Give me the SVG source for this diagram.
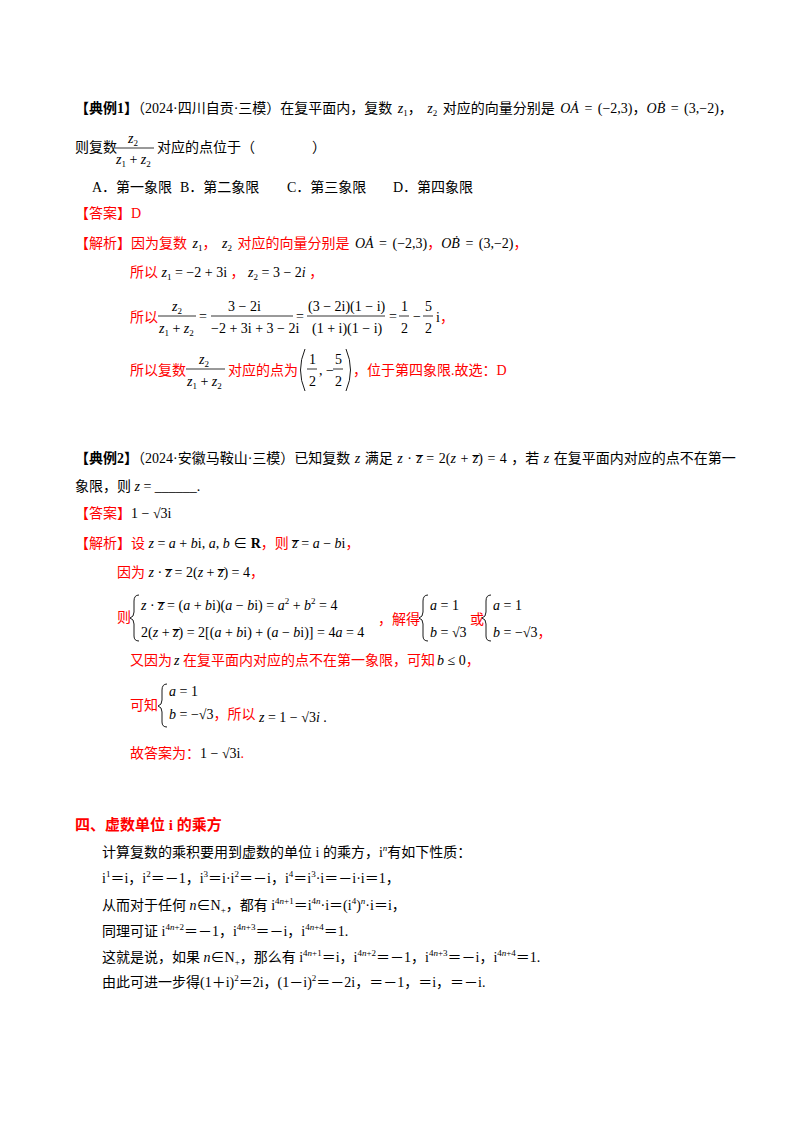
<svg xmlns="http://www.w3.org/2000/svg" width="800" height="1132" viewBox="0 0 800 1132">
<style>
text{font-family:"Liberation Serif","Noto Sans CJK SC",serif;font-size:14px;fill:#000}
.r{fill:#ff0000}
.b{font-weight:bold}
.i{font-style:italic}
.s{font-size:9px}
.h{font-size:15px}
line{stroke:#000;stroke-width:0.8}
path{fill:none;stroke:#000;stroke-width:0.9}
</style>
<rect width="800" height="1132" fill="#fff"/>
<g id="ex1">
<text x="75" y="113" word-spacing="2"><tspan class="b">【典例1】</tspan>（2024·四川自贡·三模）在复平面内，复数 <tspan class="i">z</tspan><tspan class="s" dy="3">1</tspan><tspan dy="-3">， </tspan><tspan class="i">z</tspan><tspan class="s" dy="3">2</tspan><tspan dy="-3"> 对应的向量分别是 </tspan><tspan class="i">OȦ</tspan> = (−2,3)，<tspan class="i">OḂ</tspan> = (3,−2)，</text>
<text x="75" y="152">则复数</text>
<text x="128" y="143" class="i">z<tspan class="s" font-style="normal" dy="3">2</tspan></text>
<line x1="115" y1="148" x2="154" y2="148"/>
<text x="116" y="164" class="i">z<tspan class="s" font-style="normal" dy="3">1</tspan><tspan dy="-3" font-style="normal"> + </tspan>z<tspan class="s" font-style="normal" dy="3">2</tspan></text>
<text x="157" y="152">对应的点位于（</text><text x="312" y="152">）</text>
<text x="92" y="192">A．第一象限</text>
<text x="180" y="192">B．第二象限</text>
<text x="287" y="192">C．第三象限</text>
<text x="393" y="192">D．第四象限</text>
<text x="75" y="218" class="r">【答案】D</text>
<text x="75" y="248" class="r" word-spacing="2">【解析】因为复数 <tspan class="i" fill="#000">z</tspan><tspan class="s" fill="#000" dy="3">1</tspan><tspan dy="-3">， </tspan><tspan class="i" fill="#000">z</tspan><tspan class="s" fill="#000" dy="3">2</tspan><tspan dy="-3"> 对应的向量分别是 </tspan><tspan fill="#000"><tspan class="i">OȦ</tspan> = (−2,3)</tspan>，<tspan fill="#000"><tspan class="i">OḂ</tspan> = (3,−2)</tspan>，</text>
<text x="130" y="277" class="r">所以 <tspan class="i" fill="#000">z</tspan><tspan class="s" fill="#000" dy="3">1</tspan><tspan dy="-3" fill="#000"> = −2 + 3i</tspan> ， <tspan class="i" fill="#000">z</tspan><tspan class="s" fill="#000" dy="3">2</tspan><tspan dy="-3" fill="#000"> = 3 − 2<tspan class="i">i</tspan></tspan> ，</text>
<text x="130" y="322" class="r">所以</text>
<text x="172" y="311" class="i">z<tspan class="s" font-style="normal" dy="3">2</tspan></text>
<line x1="158" y1="316" x2="196" y2="316"/>
<text x="159" y="333" class="i">z<tspan class="s" font-style="normal" dy="3">1</tspan><tspan dy="-3" font-style="normal"> + </tspan>z<tspan class="s" font-style="normal" dy="3">2</tspan></text>
<text x="199" y="321">=</text>
<text x="228" y="311">3 − 2i</text>
<line x1="211" y1="316" x2="293" y2="316"/>
<text x="211" y="333">−2 + 3i + 3 − 2i</text>
<text x="296" y="321">=</text>
<text x="308" y="311">(3 − 2i)(1 − i)</text>
<line x1="307" y1="316" x2="385" y2="316"/>
<text x="312" y="333">(1 + i)(1 − i)</text>
<text x="389" y="321">=</text>
<text x="401" y="311">1</text><line x1="399" y1="316" x2="409" y2="316"/><text x="401" y="333">2</text>
<text x="413" y="321">−</text>
<text x="425" y="311">5</text><line x1="423" y1="316" x2="433" y2="316"/><text x="425" y="333">2</text>
<text x="436" y="322">i<tspan class="r">，</tspan></text>
<text x="130" y="375" class="r">所以复数</text>
<text x="199" y="364" class="i">z<tspan class="s" font-style="normal" dy="3">2</tspan></text>
<line x1="186" y1="369" x2="225" y2="369"/>
<text x="187" y="386" class="i">z<tspan class="s" font-style="normal" dy="3">1</tspan><tspan dy="-3" font-style="normal"> + </tspan>z<tspan class="s" font-style="normal" dy="3">2</tspan></text>
<text x="228" y="375" class="r">对应的点为</text>
<path d="M305 349 Q296 370 305 391"/>
<text x="309" y="364">1</text><line x1="307" y1="369" x2="317" y2="369"/><text x="309" y="386">2</text>
<text x="319" y="375">, −</text>
<text x="335" y="364">5</text><line x1="333" y1="369" x2="343" y2="369"/><text x="335" y="386">2</text>
<path d="M346 349 Q355 370 346 391"/>
<text x="353" y="375" class="r">，位于第四象限.故选：D</text>
</g>
<g id="ex2">
<text x="75" y="463" word-spacing="1"><tspan class="b">【典例2】</tspan>（2024·安徽马鞍山·三模）已知复数 <tspan class="i">z</tspan> 满足 <tspan class="i">z</tspan> · <tspan class="i">z̅</tspan> = 2(<tspan class="i">z</tspan> + <tspan class="i">z̅</tspan>) = 4 ，若 <tspan class="i">z</tspan> 在复平面内对应的点不在第一</text>
<text x="75" y="491">象限，则 <tspan class="i">z</tspan> = ______.</text>
<text x="75" y="518"><tspan class="r">【答案】</tspan>1 − √3i</text>
<text x="75" y="548"><tspan class="r">【解析】设</tspan> <tspan class="i">z</tspan> = <tspan class="i">a</tspan> + <tspan class="i">b</tspan>i, <tspan class="i">a</tspan>, <tspan class="i">b</tspan> ∈ <tspan class="b">R</tspan><tspan class="r">，则</tspan> <tspan class="i">z̅</tspan> = <tspan class="i">a</tspan> − <tspan class="i">b</tspan>i<tspan class="r">，</tspan></text>
<text x="117" y="577"><tspan class="r">因为</tspan> <tspan class="i">z</tspan> · <tspan class="i">z̅</tspan> = 2(<tspan class="i">z</tspan> + <tspan class="i">z̅</tspan>) = 4<tspan class="r">，</tspan></text>
<text x="117" y="622" class="r">则</text>
<path d="M139 595 Q134 595 134 601 L134 612 Q134 617 130 618 Q134 619 134 624 L134 636 Q134 641 139 641"/>
<text x="141" y="610"><tspan class="i">z</tspan> · <tspan class="i">z̅</tspan> = (<tspan class="i">a</tspan> + <tspan class="i">b</tspan>i)(<tspan class="i">a</tspan> − <tspan class="i">b</tspan>i) = <tspan class="i">a</tspan><tspan class="s" dy="-6">2</tspan><tspan dy="6"> + </tspan><tspan class="i">b</tspan><tspan class="s" dy="-6">2</tspan><tspan dy="6"> = 4</tspan></text>
<text x="141" y="637">2(<tspan class="i">z</tspan> + <tspan class="i">z̅</tspan>) = 2[(<tspan class="i">a</tspan> + <tspan class="i">b</tspan>i) + (<tspan class="i">a</tspan> − <tspan class="i">b</tspan>i)] = 4<tspan class="i">a</tspan> = 4</text>
<text x="378" y="624" class="r">，解得</text>
<path d="M428 595 Q423 595 423 601 L423 612 Q423 617 419 618 Q423 619 423 624 L423 636 Q423 641 428 641"/>
<text x="430" y="610"><tspan class="i">a</tspan> = 1</text>
<text x="430" y="637"><tspan class="i">b</tspan> = √3</text>
<text x="470" y="624" class="r">或</text>
<path d="M491 595 Q486 595 486 601 L486 612 Q486 617 482 618 Q486 619 486 624 L486 636 Q486 641 491 641"/>
<text x="493" y="610"><tspan class="i">a</tspan> = 1</text>
<text x="493" y="637"><tspan class="i">b</tspan> = −√3<tspan class="r">，</tspan></text>
<text x="130" y="665" class="r">又因为</text>
<text x="174" y="665" class="i">z</text>
<text x="183" y="665" class="r">在复平面内对应的点不在第一象限，可知</text>
<text x="437" y="665"><tspan class="i">b</tspan> ≤ 0<tspan class="r">，</tspan></text>
<text x="130" y="710" class="r">可知</text>
<path d="M167 684 Q162 684 162 690 L162 700 Q162 705 158 706 Q162 707 162 712 L162 722 Q162 727 167 727"/>
<text x="169" y="696"><tspan class="i">a</tspan> = 1</text>
<text x="169" y="719"><tspan class="i">b</tspan> = −√3<tspan class="r">，所以</tspan></text>
<text x="259" y="722"><tspan class="i">z</tspan> = 1 − √3<tspan class="i">i</tspan> .</text>
<text x="130" y="758"><tspan class="r">故答案为：</tspan>1 − √3i<tspan class="r">.</tspan></text>
</g>
<g id="sec4">
<text x="75" y="830" class="r b h">四、虚数单位 i 的乘方</text>
<text x="102" y="857">计算复数的乘积要用到虚数的单位 i 的乘方，i<tspan class="s i" dy="-6">n</tspan><tspan dy="6">有如下性质：</tspan></text>
<text x="102" y="883">i<tspan class="s" dy="-6">1</tspan><tspan dy="6">＝i，i</tspan><tspan class="s" dy="-6">2</tspan><tspan dy="6">＝－1，i</tspan><tspan class="s" dy="-6">3</tspan><tspan dy="6">＝i·i</tspan><tspan class="s" dy="-6">2</tspan><tspan dy="6">＝－i，i</tspan><tspan class="s" dy="-6">4</tspan><tspan dy="6">＝i</tspan><tspan class="s" dy="-6">3</tspan><tspan dy="6">·i＝－i·i＝1，</tspan></text>
<text x="102" y="910">从而对于任何 <tspan class="i">n</tspan>∈N<tspan class="s" dy="3">+</tspan><tspan dy="-3">，都有 i</tspan><tspan class="s" dy="-6">4<tspan class="i">n</tspan>+1</tspan><tspan dy="6">＝i</tspan><tspan class="s" dy="-6">4<tspan class="i">n</tspan></tspan><tspan dy="6">·i＝(i</tspan><tspan class="s" dy="-6">4</tspan><tspan dy="6">)</tspan><tspan class="s i" dy="-6">n</tspan><tspan dy="6">·i＝i，</tspan></text>
<text x="102" y="936">同理可证 i<tspan class="s" dy="-6">4<tspan class="i">n</tspan>+2</tspan><tspan dy="6">＝－1，i</tspan><tspan class="s" dy="-6">4<tspan class="i">n</tspan>+3</tspan><tspan dy="6">＝－i，i</tspan><tspan class="s" dy="-6">4<tspan class="i">n</tspan>+4</tspan><tspan dy="6">＝1.</tspan></text>
<text x="102" y="962">这就是说，如果 <tspan class="i">n</tspan>∈N<tspan class="s" dy="3">+</tspan><tspan dy="-3">，那么有 i</tspan><tspan class="s" dy="-6">4<tspan class="i">n</tspan>+1</tspan><tspan dy="6">＝i，i</tspan><tspan class="s" dy="-6">4<tspan class="i">n</tspan>+2</tspan><tspan dy="6">＝－1，i</tspan><tspan class="s" dy="-6">4<tspan class="i">n</tspan>+3</tspan><tspan dy="6">＝－i，i</tspan><tspan class="s" dy="-6">4<tspan class="i">n</tspan>+4</tspan><tspan dy="6">＝1.</tspan></text>
<text x="102" y="987">由此可进一步得(1＋i)<tspan class="s" dy="-6">2</tspan><tspan dy="6">＝2i，(1－i)</tspan><tspan class="s" dy="-6">2</tspan><tspan dy="6">＝－2i，＝－1，＝i，＝－i.</tspan></text>
</g>
</svg>
